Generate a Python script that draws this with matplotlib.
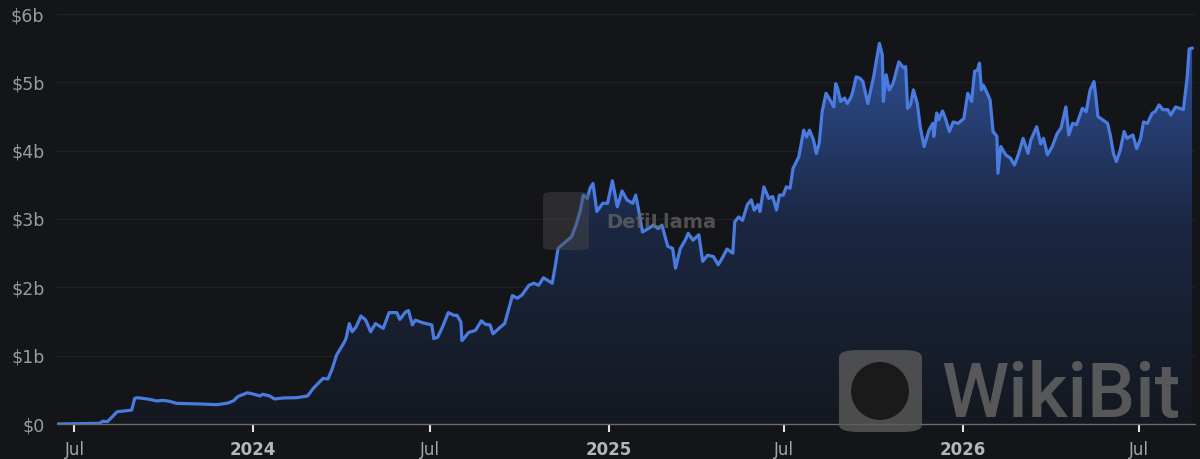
import numpy as np
import pandas as pd
import matplotlib.pyplot as plt
import matplotlib.dates as mdates
from matplotlib.colors import LinearSegmentedColormap
from matplotlib.patches import FancyBboxPatch, Circle
from matplotlib.transforms import IdentityTransform

# TVL (billions USD)
dates = [
    "2023-06-14", "2023-07-27", "2023-07-30", "2023-08-04", "2023-08-14", "2023-08-24", "2023-08-29",
    "2023-09-01", "2023-09-04", "2023-09-16", "2023-09-24", "2023-09-30", "2023-10-07", "2023-10-14",
    "2023-11-07", "2023-11-25", "2023-12-06", "2023-12-12", "2023-12-16", "2023-12-26", "2024-01-01",
    "2024-01-08", "2024-01-11", "2024-01-18", "2024-01-23", "2024-02-01", "2024-02-15", "2024-02-26",
    "2024-03-03", "2024-03-13", "2024-03-18", "2024-03-22", "2024-03-27", "2024-04-04", "2024-04-06",
    "2024-04-09", "2024-04-12", "2024-04-16", "2024-04-21", "2024-04-26", "2024-05-01", "2024-05-06",
    "2024-05-14", "2024-05-20", "2024-05-28", "2024-05-31", "2024-06-06", "2024-06-09", "2024-06-13",
    "2024-06-16", "2024-06-24", "2024-07-03", "2024-07-05", "2024-07-09", "2024-07-14", "2024-07-20",
    "2024-07-26", "2024-07-29", "2024-08-02", "2024-08-03", "2024-08-10", "2024-08-17", "2024-08-23",
    "2024-08-27", "2024-09-01", "2024-09-04", "2024-09-11", "2024-09-16", "2024-09-19", "2024-09-24",
    "2024-09-29", "2024-10-04", "2024-10-11", "2024-10-16", "2024-10-21", "2024-10-26", "2024-11-04",
    "2024-11-07", "2024-11-10", "2024-11-14", "2024-11-19", "2024-11-24", "2024-11-29", "2024-12-03",
    "2024-12-06", "2024-12-10", "2024-12-13", "2024-12-16", "2024-12-20", "2024-12-26", "2024-12-31",
    "2025-01-05", "2025-01-10", "2025-01-15", "2025-01-20", "2025-01-26", "2025-01-29", "2025-02-01",
    "2025-02-05", "2025-02-11", "2025-02-16", "2025-02-21", "2025-02-25", "2025-03-03", "2025-03-08",
    "2025-03-11", "2025-03-16", "2025-03-21", "2025-03-24", "2025-03-29", "2025-04-04", "2025-04-08",
    "2025-04-13", "2025-04-19", "2025-04-24", "2025-04-29", "2025-05-03", "2025-05-09", "2025-05-11",
    "2025-05-15", "2025-05-19", "2025-05-24", "2025-05-28", "2025-05-31", "2025-06-04", "2025-06-06",
    "2025-06-10", "2025-06-15", "2025-06-19", "2025-06-23", "2025-06-26", "2025-06-30", "2025-07-03",
    "2025-07-07", "2025-07-10", "2025-07-16", "2025-07-21", "2025-07-24", "2025-07-27", "2025-07-31",
    "2025-08-03", "2025-08-06", "2025-08-09", "2025-08-13", "2025-08-16", "2025-08-21", "2025-08-23",
    "2025-08-25", "2025-08-28", "2025-09-01", "2025-09-04", "2025-09-08", "2025-09-10", "2025-09-13",
    "2025-09-17", "2025-09-20", "2025-09-25", "2025-10-01", "2025-10-04", "2025-10-07", "2025-10-10",
    "2025-10-11", "2025-10-14", "2025-10-17", "2025-10-21", "2025-10-27", "2025-11-01", "2025-11-03",
    "2025-11-05", "2025-11-08", "2025-11-11", "2025-11-15", "2025-11-18", "2025-11-22", "2025-11-27",
    "2025-12-01", "2025-12-02", "2025-12-05", "2025-12-07", "2025-12-11", "2025-12-14", "2025-12-18",
    "2025-12-22", "2025-12-27", "2026-01-02", "2026-01-06", "2026-01-10", "2026-01-13", "2026-01-16",
    "2026-01-18", "2026-01-20", "2026-01-22", "2026-01-26", "2026-01-29", "2026-02-01", "2026-02-05",
    "2026-02-06", "2026-02-09", "2026-02-14", "2026-02-19", "2026-02-23", "2026-02-27", "2026-03-04",
    "2026-03-09", "2026-03-12", "2026-03-18", "2026-03-22", "2026-03-25", "2026-03-29", "2026-04-03",
    "2026-04-08", "2026-04-12", "2026-04-17", "2026-04-20", "2026-04-24", "2026-04-28", "2026-05-04",
    "2026-05-08", "2026-05-12", "2026-05-16", "2026-05-18", "2026-05-20", "2026-05-25", "2026-05-30",
    "2026-06-02", "2026-06-05", "2026-06-08", "2026-06-12", "2026-06-16", "2026-06-19", "2026-06-25",
    "2026-06-29", "2026-07-03", "2026-07-06", "2026-07-10", "2026-07-15", "2026-07-18", "2026-07-22",
    "2026-07-26", "2026-07-31", "2026-08-03", "2026-08-08", "2026-08-12", "2026-08-16", "2026-08-20",
    "2026-08-22", "2026-08-25",
]
tvl = [
    0.0, 0.01, 0.04, 0.035, 0.18, 0.195, 0.205,
    0.376, 0.385, 0.362, 0.337, 0.346, 0.332, 0.302,
    0.293, 0.283, 0.307, 0.341, 0.40, 0.457, 0.439,
    0.41, 0.435, 0.41, 0.366, 0.381, 0.385, 0.41,
    0.522, 0.668, 0.659, 0.79, 1.01, 1.20, 1.27,
    1.47, 1.35, 1.42, 1.58, 1.52, 1.35, 1.47,
    1.40, 1.63, 1.63, 1.53, 1.64, 1.66, 1.45,
    1.52, 1.48, 1.45, 1.25, 1.27, 1.42, 1.63,
    1.59, 1.59, 1.49, 1.22, 1.34, 1.37, 1.51,
    1.46, 1.45, 1.32, 1.41, 1.47, 1.62, 1.88,
    1.84, 1.89, 2.03, 2.06, 2.03, 2.14, 2.06,
    2.30, 2.57, 2.62, 2.68, 2.74, 2.93, 3.13,
    3.35, 3.30, 3.45, 3.52, 3.11, 3.23, 3.23,
    3.56, 3.18, 3.41, 3.28, 3.23, 3.35, 3.13,
    2.81, 2.86, 2.91, 2.86, 2.91, 2.60, 2.57,
    2.28, 2.57, 2.69, 2.79, 2.69, 2.77, 2.38,
    2.47, 2.45, 2.33, 2.45, 2.56, 2.50, 2.96,
    3.03, 2.98, 3.21, 3.28, 3.13, 3.21, 3.11,
    3.47, 3.30, 3.33, 3.13, 3.35, 3.35, 3.47,
    3.45, 3.74, 3.91, 4.30, 4.20, 4.30, 4.16,
    3.96, 4.11, 4.57, 4.84, 4.77, 4.64, 4.98,
    4.91, 4.72, 4.77, 4.69, 4.79, 4.89, 5.08,
    5.06, 5.01, 4.69, 5.08, 5.33, 5.57, 5.40,
    4.72, 5.11, 4.89, 4.98, 5.30, 5.21, 5.23,
    4.62, 4.67, 4.89, 4.69, 4.35, 4.06, 4.30,
    4.40, 4.21, 4.55, 4.45, 4.58, 4.47, 4.28,
    4.42, 4.40, 4.47, 4.84, 4.72, 5.16, 5.18,
    5.28, 4.89, 4.96, 4.84, 4.74, 4.28, 4.21,
    3.67, 4.06, 3.94, 3.89, 3.79, 3.94, 4.18,
    3.96, 4.16, 4.35, 4.10, 4.18, 3.94, 4.06,
    4.25, 4.33, 4.64, 4.23, 4.40, 4.38, 4.62,
    4.57, 4.89, 5.01, 4.77, 4.50, 4.45, 4.40,
    4.21, 3.96, 3.84, 4.01, 4.28, 4.18, 4.23,
    4.03, 4.18, 4.42, 4.40, 4.55, 4.57, 4.67,
    4.60, 4.60, 4.52, 4.64, 4.62, 4.60, 5.08,
    5.49, 5.50,
]

tick_dates = ["2023-07-01", "2024-01-01", "2024-07-01", "2025-01-01",
              "2025-07-01", "2026-01-01", "2026-07-01"]
tick_labels = ["Jul", "2024", "Jul", "2025", "Jul", "2026", "Jul"]
y_ticks = [0, 1, 2, 3, 4, 5, 6]
y_labels = ["\\$0", "\\$1b", "\\$2b", "\\$3b", "\\$4b", "\\$5b", "\\$6b"]

bg = "#141518"
line_col = "#4a7be0"

fig = plt.figure(figsize=(12, 4.59), dpi=100, facecolor=bg)
ax = fig.add_axes([57 / 1200, 1 - 424 / 459, 1138 / 1200, 410 / 459])
ax.set_facecolor(bg)

x = mdates.date2num(pd.to_datetime(dates))
y = np.array(tvl)

# gradient fill under the line
poly = ax.fill_between(x, y, 0, color="none", lw=0)
cmap = LinearSegmentedColormap.from_list("tvl", ["#14181f", "#1b2742", "#30539c"])
grad = np.linspace(0, 1, 256).reshape(-1, 1)
im = ax.imshow(grad, extent=[x[0], x[-1], 0, 5.8], origin="lower",
               aspect="auto", cmap=cmap, zorder=2)
im.set_clip_path(poly.get_paths()[0], transform=ax.transData)

ax.plot(x, y, color=line_col, lw=2.3, zorder=3, solid_joinstyle="round")

ax.set_xlim(mdates.date2num(pd.Timestamp("2023-06-13")),
            mdates.date2num(pd.Timestamp("2026-08-28")))
ax.set_ylim(0, 6)

# axes styling
for s in ["top", "right", "left"]:
    ax.spines[s].set_visible(False)
ax.spines["bottom"].set_color("#6a6b70")
ax.spines["bottom"].set_linewidth(1.0)
ax.spines["bottom"].set_zorder(4)

ax.set_yticks(y_ticks)
ax.set_yticklabels(y_labels)
ax.tick_params(axis="y", length=0, pad=9, labelsize=12.5, labelcolor="#9a9b9f")
for v in y_ticks[1:]:
    ax.axhline(v, color="#202126", lw=0.9, zorder=1)

ax.set_xticks(mdates.date2num(pd.to_datetime(tick_dates)))
ax.set_xticklabels(tick_labels)
ax.tick_params(axis="x", length=6, width=1.5, color="#e0e0e0", pad=6,
               labelsize=12, labelcolor="#a5a6aa")
for lab in ax.get_xticklabels():
    if lab.get_text().isdigit():
        lab.set_fontweight("bold")
        lab.set_color("#b5b6ba")

# DefiLlama watermark
fig.patches.append(FancyBboxPatch((543 / 1200, 1 - 250 / 459), 46 / 1200, 58 / 459,
                                  boxstyle="round,pad=0,rounding_size=0.008",
                                  transform=fig.transFigure, facecolor="#4a4a4a",
                                  edgecolor="none", alpha=0.45, zorder=5))
fig.text(606 / 1200, 1 - 222 / 459, "DefiLlama", fontsize=14, fontweight="bold",
         color="#6a6a6a", alpha=0.7, va="center", ha="left", zorder=6)

# WikiBit watermark
fig.patches.append(FancyBboxPatch((839 / 1200, 1 - 432 / 459), 83 / 1200, 82 / 459,
                                  boxstyle="round,pad=0,rounding_size=0.016",
                                  transform=fig.transFigure, facecolor="#5a5a5a",
                                  edgecolor="none", alpha=0.8, zorder=5))
fig.patches.append(Circle((880, 459 - 391), 29, transform=IdentityTransform(),
                          facecolor="#1a1a1a", edgecolor="none", zorder=6))
fig.text(941 / 1200, 1 - 417 / 459, "WikiBit", fontsize=55, fontfamily="Roboto",
         fontweight="medium", color="#5f5f5f", alpha=0.9, va="baseline",
         ha="left", zorder=6)

fig.savefig("out.png", dpi=100, facecolor=bg)
